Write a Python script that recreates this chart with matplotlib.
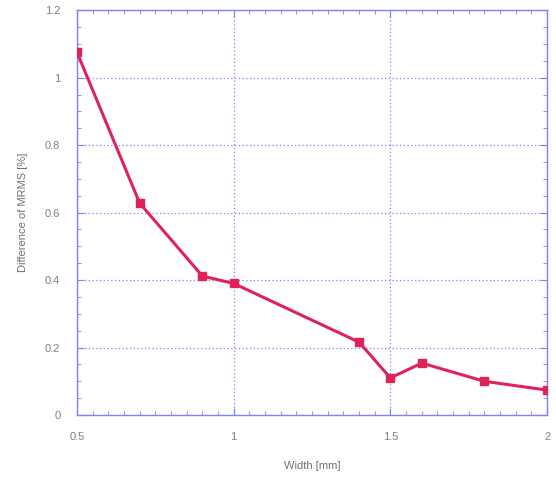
import matplotlib
matplotlib.use("Agg")
import matplotlib.pyplot as plt
from matplotlib.ticker import MultipleLocator

widths = [0.5, 0.7, 0.9, 1.0, 1.4, 1.5, 1.6, 1.8, 2.0]
diff_mrms = [1.075, 0.628, 0.412, 0.39, 0.216, 0.11, 0.154, 0.10, 0.074]
x_ticks = [0.5, 1.0, 1.5, 2.0]
x_labels = ['0.5', '1', '1.5', '2']
y_ticks = [0, 0.2, 0.4, 0.6, 0.8, 1.0, 1.2]
y_labels = ['0', '0.2', '0.4', '0.6', '0.8', '1', '1.2']

plt.rcParams['font.family'] = ['Liberation Sans', 'DejaVu Sans']

fig = plt.figure(figsize=(5.56, 4.86), dpi=100)
ax = fig.add_axes([0.1385, 0.146, 0.8455, 0.833])

ax.plot(widths, diff_mrms, color='#e0225a', lw=2.2, marker='s', ms=5.5,
        markeredgecolor='#e0225a', zorder=3)

ax.set_xlim(0.5, 2.0)
ax.set_ylim(0, 1.2)
ax.set_xticks(x_ticks)
ax.set_xticklabels(x_labels)
ax.set_yticks(y_ticks)
ax.set_yticklabels(y_labels)
ax.xaxis.set_minor_locator(MultipleLocator(0.05))
ax.yaxis.set_minor_locator(MultipleLocator(0.05))

blue = '#8080ff'
for s in ax.spines.values():
    s.set_color(blue)
    s.set_linewidth(1.0)
ax.tick_params(which='both', direction='in', top=True, right=True, color=blue,
               labelcolor='#808080', labelsize=8)
ax.tick_params(which='major', length=5, pad=12)
ax.tick_params(which='minor', length=3)
ax.grid(True, which='major', color=blue, linestyle=(0, (1, 2)), linewidth=0.9)

ax.set_xlabel('Width [mm]', color='#707070', fontsize=8, labelpad=14)
ax.set_ylabel('Difference of MRMS [%]', color='#707070', fontsize=8, labelpad=12)

fig.savefig('out.png', dpi=100)
